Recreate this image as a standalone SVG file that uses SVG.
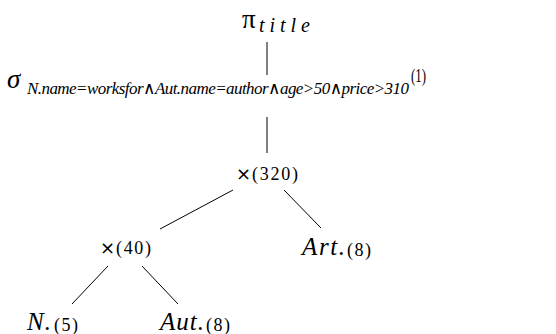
<svg xmlns="http://www.w3.org/2000/svg" width="556" height="334" viewBox="0 0 556 334">
<style>
text{font-family:"Liberation Serif","DejaVu Serif",serif;fill:#000}
.it{font-style:italic}
.big{font-size:25px}
.greek{font-size:27px}
.sub{font-size:17px}
.ttl{font-size:20px}
.num{font-size:18px}
.x{font-family:"DejaVu Sans",sans-serif;font-size:18px}
line{stroke:#000;stroke-width:1}
</style>
<rect width="556" height="334" fill="#fff"/>
<g id="connectors">
<line x1="267" y1="42" x2="267" y2="75"/>
<line x1="267" y1="117" x2="267" y2="153"/>
<line x1="233" y1="190" x2="160" y2="229"/>
<line x1="284" y1="190" x2="321" y2="228"/>
<line x1="108" y1="266" x2="72" y2="304"/>
<line x1="142" y1="266" x2="178" y2="304"/>
</g>
<g id="proj">
<text x="242" y="28" class="greek">π</text>
<text x="259" y="32" class="it ttl" textLength="51" lengthAdjust="spacing">title</text>
</g>
<g id="select">
<text x="7" y="88" class="it greek">σ</text>
<text x="27" y="94" class="it sub" textLength="382" lengthAdjust="spacing">N.name=worksfor∧Aut.name=author∧age&gt;50∧price&gt;310</text>
<text x="411" y="82" class="num" textLength="15" lengthAdjust="spacingAndGlyphs">(1)</text>
</g>
<g id="cross1">
<text x="236" y="180" class="x">×</text>
<text x="252" y="180" class="num" textLength="46" lengthAdjust="spacing">(320)</text>
</g>
<g id="cross2">
<text x="100" y="254" class="x">×</text>
<text x="116" y="254" class="num" textLength="35" lengthAdjust="spacing">(40)</text>
</g>
<g id="art">
<text x="302" y="255" class="it big" textLength="43" lengthAdjust="spacing">Art.</text>
<text x="347" y="256" class="num" textLength="24" lengthAdjust="spacing">(8)</text>
</g>
<g id="n">
<text x="27" y="330" class="it big" textLength="24" lengthAdjust="spacing">N.</text>
<text x="54" y="331" class="num" textLength="24" lengthAdjust="spacing">(5)</text>
</g>
<g id="aut">
<text x="160" y="330" class="it big" textLength="44" lengthAdjust="spacing">Aut.</text>
<text x="206" y="331" class="num" textLength="24" lengthAdjust="spacing">(8)</text>
</g>
</svg>
